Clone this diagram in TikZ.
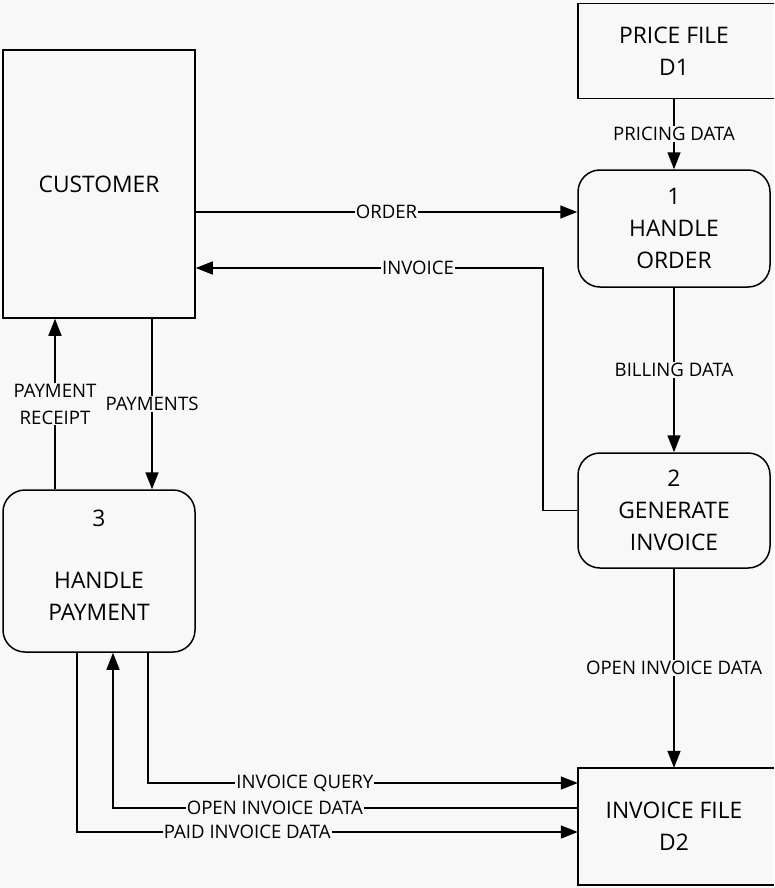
\documentclass[tikz,border=0pt]{standalone}
\usepackage{fontspec}
\setmainfont{Open Sans}
\usetikzlibrary{arrows.meta}
\definecolor{bgc}{RGB}{248,248,248}
\begin{document}
\begin{tikzpicture}[x=1pt,y=-1pt,
  every node/.style={font=\fontsize{22.8}{32}\selectfont, text=black, align=center},
  ent/.style={draw, line width=1.5pt, minimum width=192pt, inner sep=0pt},
  proc/.style={draw, line width=1.5pt, rounded corners=22pt, minimum width=192pt, inner sep=0pt},
  store/.style={minimum width=192pt, inner sep=0pt},
  border/.style={line width=1.5pt},
  flow/.style={line width=1.5pt, -{Triangle[length=17pt,width=13pt]}},
  lbl/.style={font=\fontsize{18.6}{27}\selectfont, fill=bgc, inner sep=1pt},
  ]
\path[use as bounding box, fill=bgc] (0,0) rectangle (774,888);

\node[ent, minimum height=268pt] (cust) at (99,184) {CUSTOMER};
\node[store, minimum height=95pt] (d1) at (674,51) {PRICE FILE\\D1};
\draw[border] ([xshift=4pt]d1.north east) -- (d1.north west) -- (d1.south west) -- ([xshift=4pt]d1.south east);
\node[proc, minimum height=117pt] (ho) at (674,228.5) {1\\HANDLE\\ORDER};
\node[proc, minimum height=115pt] (gi) at (674,510.5) {2\\GENERATE\\INVOICE};
\node[proc, minimum height=162pt] (pay) at (99,571) {};
\node (paynum) at (99,518) {3};
\node (paytxt) at (99,596.5) {HANDLE\\PAYMENT};
\node[store, minimum height=117pt] (d2) at (674,826.5) {INVOICE FILE\\D2};
\draw[border] ([xshift=4pt]d2.north east) -- (d2.north west) -- (d2.south west) -- ([xshift=4pt]d2.south east);

\draw[flow] (d1.south) -- node[lbl]{PRICING DATA} (ho.north);
\draw[flow] (cust.east |- 0,212) -- node[lbl]{ORDER} (ho.west |- 0,212);
\draw[flow] (gi.west) -- (543,510.5) -- (543,268) -- node[lbl,pos=0.36]{INVOICE} (cust.east |- 0,268);
\draw[flow] (ho.south) -- node[lbl]{BILLING DATA} (gi.north);
\draw[flow] (gi.south) -- node[lbl]{OPEN INVOICE DATA} (d2.north);
\draw[flow] (pay.north -| 55,0) -- node[lbl]{PAYMENT\\RECEIPT} (cust.south -| 55,0);
\draw[flow] (cust.south -| 152,0) -- node[lbl]{PAYMENTS} (pay.north -| 152,0);
\draw[flow] (pay.south -| 148,0) -- (148,783) -- node[lbl,pos=0.365]{INVOICE QUERY} (d2.west |- 0,783);
\draw[flow] (d2.west |- 0,808) -- node[lbl,pos=0.652]{OPEN INVOICE DATA} (113,808) -- (pay.south -| 113,0);
\draw[flow] (pay.south -| 77,0) -- (77,832) -- node[lbl,pos=0.34]{PAID INVOICE DATA} (d2.west |- 0,832);
\end{tikzpicture}
\end{document}
